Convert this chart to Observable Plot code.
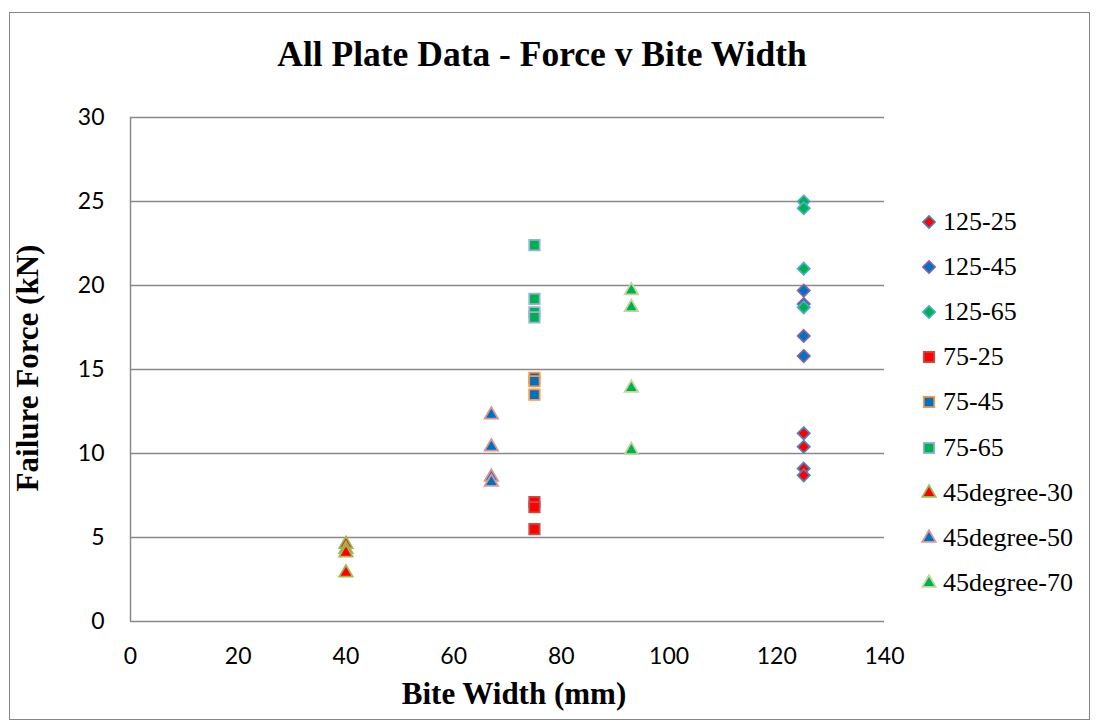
<!DOCTYPE html>
<html><head><meta charset="utf-8">
<script src="https://cdn.jsdelivr.net/npm/d3@7"></script>
<script src="https://cdn.jsdelivr.net/npm/@observablehq/plot@0.6"></script>
<style>
body{margin:0;background:#fff;}
#wrap{position:relative;width:1097px;height:722px;overflow:hidden;background:#fff;}
#frame{position:absolute;left:9px;top:12px;width:1081px;height:708px;border:1.5px solid #868686;box-sizing:border-box;}
#chart{position:absolute;left:0;top:0;}
.t{position:absolute;font-family:"Liberation Serif","Times New Roman",serif;font-weight:bold;color:#000;white-space:nowrap;}
#title{left:542px;top:33px;transform:translateX(-50%);font-size:35.5px;}
#xlabel{left:514px;top:676px;transform:translateX(-50%);font-size:31px;}
#ylabel{left:28px;top:368px;transform:translate(-50%,-50%) rotate(-90deg);font-size:31px;}
#legend{position:absolute;left:920px;top:199px;color:#000;}
.row{display:flex;align-items:center;height:45.2px;}
.row svg{width:18px;height:18px;margin-right:5px;overflow:visible;}
</style></head>
<body>
<div id="wrap">
  <div id="frame"></div>
  <div id="chart"></div>
  <div class="t" id="title">All Plate Data - Force v Bite Width</div>
  <div class="t" id="xlabel">Bite Width (mm)</div>
  <div class="t" id="ylabel">Failure Force (kN)</div>
  <div id="legend"></div>
</div>
<script>
// ---- data ----
const seriesNames = ["125-25","125-45","125-65","75-25","75-45","75-65","45degree-30","45degree-50","45degree-70"];
const biteWidths  = [125, 125, 125, 75, 75, 75, 40, 67, 93];
const force125_25 = [11.2, 10.4, 9.1, 8.7];
const force125_45 = [19.7, 18.9, 17.0, 15.8];
const force125_65 = [25.0, 24.6, 21.0, 18.7];
const force75_25  = [7.1, 6.8, 5.5];
const force75_45  = [14.5, 14.3, 13.5];
const force75_65  = [22.4, 19.2, 18.4, 18.1];
const force45_30  = [4.6, 4.3, 4.1, 2.9];
const force45_50  = [12.3, 10.4, 8.6, 8.3];
const force45_70  = [19.7, 18.7, 13.9, 10.2];
const xTicks = [0, 20, 40, 60, 80, 100, 120, 140];
const yTicks = [0, 5, 10, 15, 20, 25, 30];

// ---- styles ----
const seriesForces = [force125_25, force125_45, force125_65, force75_25, force75_45, force75_65, force45_30, force45_50, force45_70];
const fills   = ["#FF0000","#0070C0","#00B050","#FF0000","#0070C0","#00B050","#FF0000","#0070C0","#00B050"];
const strokes = ["#4F81BD","#8064A2","#4BACC6","#C0504D","#F79646","#95B3D7","#9BBB59","#D99694","#C3D69B"];
const symbols = ["diamond2","diamond2","diamond2","square","square","square","triangle","triangle","triangle"];
const radii   = [5.5, 5.5, 5.5, 5.9, 5.9, 5.9, 5.0, 5.0, 5.0];

const marks = [
  Plot.gridY({ticks: yTicks, stroke: "#898989", strokeOpacity: 1, strokeWidth: 1.5}),
  Plot.ruleX([0], {stroke: "#898989", strokeWidth: 1.5}),
  Plot.axisX({ticks: xTicks, tickSize: 0, tickPadding: 26, label: null, tickFormat: d => String(d)}),
  Plot.axisY({ticks: yTicks, tickSize: 0, tickPadding: 26, label: null, tickFormat: d => String(d)})
];
seriesNames.forEach((name, i) => {
  const rows = seriesForces[i].map(v => ({series: name, width: biteWidths[i], force: v}));
  marks.push(Plot.dot(rows, {x: "width", y: "force", symbol: symbols[i], r: radii[i], fill: fills[i], stroke: strokes[i], strokeWidth: 1.75}));
});

const chart = Plot.plot({
  width: 1097, height: 722,
  marginLeft: 130, marginRight: 213, marginTop: 117, marginBottom: 101,
  x: {domain: [0, 140]},
  y: {domain: [0, 30]},
  style: {fontFamily: "Lato, 'Open Sans', sans-serif", fontSize: "23px", color: "#000", background: "transparent", overflow: "visible"},
  marks
});
document.getElementById("chart").appendChild(chart);

// ---- legend ----
const symbolTypes = {diamond2: d3.symbolDiamond2, square: d3.symbolSquare, triangle: d3.symbolTriangle};
const legend = d3.select("#legend");
seriesNames.forEach((name, i) => {
  const row = legend.append("div").attr("class", "row");
  const svg = row.append("svg").attr("viewBox", "-9 -9 18 18");
  svg.append("path")
    .attr("d", d3.symbol(symbolTypes[symbols[i]], radii[i] * radii[i] * Math.PI)())
    .attr("fill", fills[i]).attr("stroke", strokes[i]).attr("stroke-width", 1.75);
  row.append("div")
    .style("font-family", "'Liberation Serif', 'Times New Roman', serif")
    .style("font-size", "26px")
    .style("font-weight", "400")
    .style("white-space", "nowrap")
    .text(name);
});
</script>
</body></html>
